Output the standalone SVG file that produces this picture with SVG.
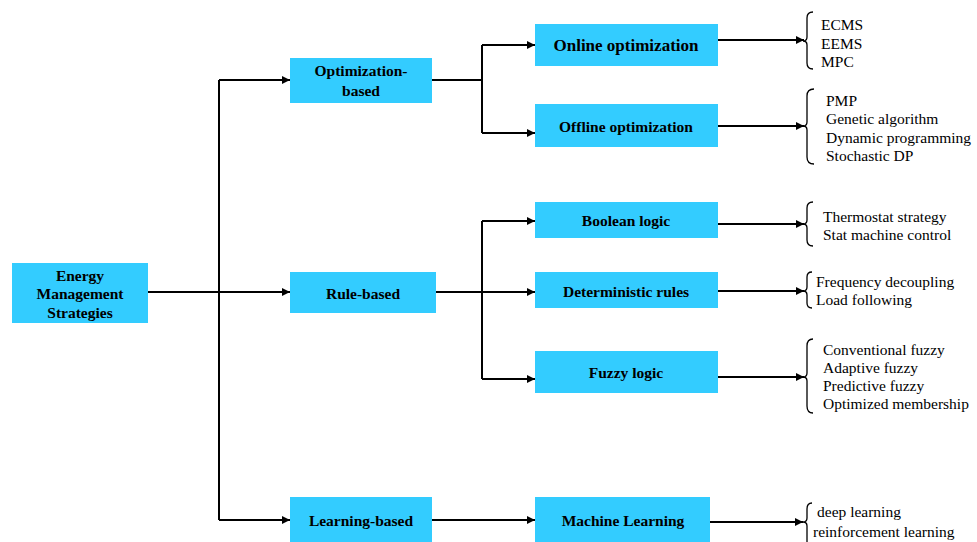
<svg xmlns="http://www.w3.org/2000/svg" width="977" height="542" viewBox="0 0 977 542">
<style>
.box{fill:#33ccff}
.lbl{font-family:"Liberation Serif","Times New Roman",serif;font-weight:bold;font-size:15.5px;fill:#000;text-anchor:middle;dominant-baseline:central}
.big{font-size:17px}
.item{font-family:"Liberation Serif","Times New Roman",serif;font-size:15.5px;fill:#000}
.ln{fill:none;stroke:#000;stroke-width:2}
.br{fill:none;stroke:#000;stroke-width:1.3}
</style>
<defs>
<marker id="ah" viewBox="0 0 10 10" refX="10" refY="5" markerWidth="9" markerHeight="8" markerUnits="userSpaceOnUse" orient="auto">
<path d="M0,0 L10,5 L0,10 z" fill="#000"/>
</marker>
</defs>
<rect width="977" height="542" fill="#fff"/>
<g id="connectors">
<path class="ln" d="M148 292 H290" marker-end="url(#ah)"/>
<path class="ln" d="M219 80 V520"/>
<path class="ln" d="M219 80 H290" marker-end="url(#ah)"/>
<path class="ln" d="M219 520 H290" marker-end="url(#ah)"/>
<path class="ln" d="M432 80 H482"/>
<path class="ln" d="M482 45 V133"/>
<path class="ln" d="M482 45 H535" marker-end="url(#ah)"/>
<path class="ln" d="M482 133 H535" marker-end="url(#ah)"/>
<path class="ln" d="M436 292 H535" marker-end="url(#ah)"/>
<path class="ln" d="M482 221 V379"/>
<path class="ln" d="M482 221 H535" marker-end="url(#ah)"/>
<path class="ln" d="M482 379 H535" marker-end="url(#ah)"/>
<path class="ln" d="M432 520 H535" marker-end="url(#ah)"/>
<path class="ln" d="M718 40 H804" marker-end="url(#ah)"/>
<path class="ln" d="M718 126 H804" marker-end="url(#ah)"/>
<path class="ln" d="M718 224 H804" marker-end="url(#ah)"/>
<path class="ln" d="M718 291 H804" marker-end="url(#ah)"/>
<path class="ln" d="M718 377 H804" marker-end="url(#ah)"/>
<path class="ln" d="M710 522 H803" marker-end="url(#ah)"/>
</g>
<g id="energy">
<rect class="box" x="12" y="263" width="136" height="60"/>
<text class="lbl" x="80" y="275">Energy</text>
<text class="lbl" x="80" y="293">Management</text>
<text class="lbl" x="80" y="312">Strategies</text>
</g>
<g id="optimization-based">
<rect class="box" x="290" y="58" width="142" height="45"/>
<text class="lbl" x="361" y="70">Optimization-</text>
<text class="lbl" x="361" y="90">based</text>
</g>
<g id="rule-based">
<rect class="box" x="290" y="272" width="146" height="41"/>
<text class="lbl" x="363" y="293">Rule-based</text>
</g>
<g id="learning-based">
<rect class="box" x="290" y="497" width="142" height="45"/>
<text class="lbl" x="361" y="520">Learning-based</text>
</g>
<g id="online">
<rect class="box" x="535" y="24" width="183" height="42"/>
<text class="lbl big" x="626" y="45">Online optimization</text>
</g>
<g id="offline">
<rect class="box" x="535" y="104" width="183" height="43"/>
<text class="lbl" x="626" y="126">Offline optimization</text>
</g>
<g id="boolean">
<rect class="box" x="535" y="202" width="183" height="36"/>
<text class="lbl" x="626" y="220">Boolean logic</text>
</g>
<g id="deterministic">
<rect class="box" x="535" y="272" width="183" height="36"/>
<text class="lbl" x="626" y="291">Deterministic rules</text>
</g>
<g id="fuzzy">
<rect class="box" x="535" y="351" width="183" height="42"/>
<text class="lbl" x="626" y="372">Fuzzy logic</text>
</g>
<g id="machine-learning">
<rect class="box" x="535" y="497" width="175" height="45"/>
<text class="lbl" x="623" y="520">Machine Learning</text>
</g>
<g id="online-methods">
<path class="br" d="M813 12 Q807 12 807 18 L807 37 Q807 41 803 41 Q807 41 807 45 L807 63 Q807 69 813 69"/>
<text class="item" x="821" y="30">ECMS</text>
<text class="item" x="821" y="49">EEMS</text>
<text class="item" x="821" y="67">MPC</text>
</g>
<g id="offline-methods">
<path class="br" d="M814 89 Q807 89 807 96 L807 122 Q807 126 803 126 Q807 126 807 130 L807 157 Q807 164 814 164"/>
<text class="item" x="826" y="106">PMP</text>
<text class="item" x="826" y="124">Genetic algorithm</text>
<text class="item" x="826" y="143">Dynamic programming</text>
<text class="item" x="826" y="161">Stochastic DP</text>
</g>
<g id="boolean-methods">
<path class="br" d="M813 202 Q807 202 807 208 L807 220 Q807 224 803 224 Q807 224 807 228 L807 240 Q807 246 813 246"/>
<text class="item" x="823" y="222">Thermostat strategy</text>
<text class="item" x="823" y="240">Stat machine control</text>
</g>
<g id="deterministic-methods">
<path class="br" d="M812 272 Q807 272 807 277 L807 287 Q807 291 803 291 Q807 291 807 295 L807 303 Q807 308 812 308"/>
<text class="item" x="816" y="287">Frequency decoupling</text>
<text class="item" x="816" y="305">Load following</text>
</g>
<g id="fuzzy-methods">
<path class="br" d="M813 339 Q807 339 807 346 L807 373 Q807 377 803 377 Q807 377 807 381 L807 406 Q807 413 813 413"/>
<text class="item" x="823" y="355">Conventional fuzzy</text>
<text class="item" x="823" y="373">Adaptive fuzzy</text>
<text class="item" x="823" y="391">Predictive fuzzy</text>
<text class="item" x="823" y="409">Optimized membership</text>
</g>
<g id="learning-methods">
<path class="br" d="M812 503 Q807 503 807 509 L807 518 Q807 522 803 522 Q807 522 807 526 L807 542"/>
<text class="item" x="817" y="517">deep learning</text>
<text class="item" x="813" y="537">reinforcement learning</text>
</g>
</svg>
